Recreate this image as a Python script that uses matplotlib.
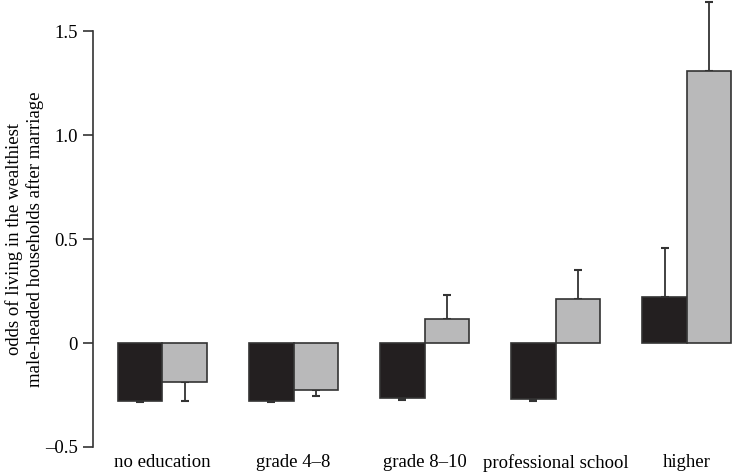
import numpy as np
import matplotlib
matplotlib.use('Agg')
import matplotlib.pyplot as plt

categories = ['no education', 'grade 4\u20138', 'grade 8\u201310', 'professional school', 'higher']
black_vals = [-0.279, -0.279, -0.264, -0.27, 0.22]
grey_vals = [-0.1875, -0.226, 0.115, 0.21, 1.31]
black_err = [0.004, 0.004, 0.01, 0.01, 0.235]
grey_err = [0.09, 0.03, 0.115, 0.14, 0.33]
ytick_vals = [-0.5, 0, 0.5, 1.0, 1.5]
ytick_labels = ['\u20130.5', '0', '0.5', '1.0', '1.5']

plt.rcParams['font.family'] = ['Liberation Serif', 'DejaVu Serif']
fs = 13.5

fig = plt.figure(figsize=(7.34, 4.74), dpi=100)
ax = fig.add_axes([0.1267, 0.057, 0.8733, 0.943])

x = np.arange(len(categories))
w = 0.34
edge = '#333333'


def draw(xpos, vals, errs, color):
    ax.bar(xpos, vals, width=w, color=color, edgecolor=edge, linewidth=1.2, zorder=2)
    for xi, v, e in zip(xpos, vals, errs):
        # error bar drawn only away from zero
        lo = [0] if v >= 0 else [e]
        hi = [e] if v >= 0 else [0]
        ax.errorbar([xi], [v], yerr=[lo, hi], fmt='none', ecolor=edge,
                    elinewidth=1.3, capsize=3, capthick=1.5, zorder=1)


draw(x - w / 2, black_vals, black_err, '#231f20')
draw(x + w / 2, grey_vals, grey_err, '#b9b9ba')

ax.set_xlim(-0.53, 4.36)
ax.set_ylim(-0.5, 1.65)
ax.set_yticks(ytick_vals)
ax.set_yticklabels(ytick_labels, fontsize=fs)
ax.set_xticks(x)
ax.set_xticklabels(categories, fontsize=fs)
ax.tick_params(axis='x', length=0, pad=5)
ax.tick_params(axis='y', length=7.5, width=1.2, color=edge, pad=3.5)
for s in ['top', 'right', 'bottom']:
    ax.spines[s].set_visible(False)
ax.spines['left'].set_color(edge)
ax.spines['left'].set_linewidth(1.2)
ax.spines['left'].set_bounds(-0.5, 1.5)

fig.text(0.0334, 0.496, 'odds of living in the wealthiest\nmale-headed households after marriage',
         rotation=90, ha='center', va='center', fontsize=fs, linespacing=1.2)

fig.savefig('out.png', dpi=100)
